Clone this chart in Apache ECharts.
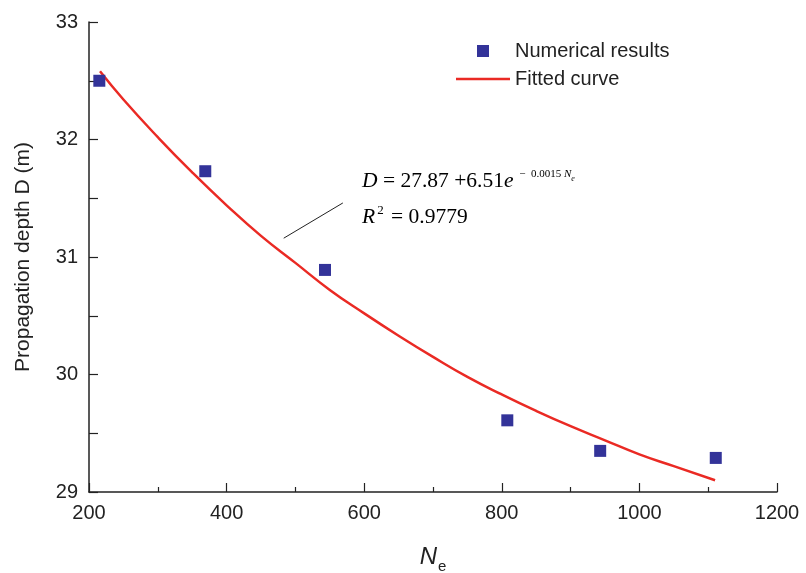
<!DOCTYPE html>
<html>
<head>
<meta charset="utf-8">
<script src="https://cdn.jsdelivr.net/npm/echarts@6/dist/echarts.min.js"></script>
<style>html,body{margin:0;padding:0;background:#fff;}#c{width:806px;height:573px;}</style>
</head>
<body>
<div id="c"></div>
<script>
// Numerical results (N_e, D)
const numericalNe = [215, 369, 543, 808, 943, 1111];
const numericalD  = [32.50, 31.73, 30.89, 29.61, 29.35, 29.29];
// Fitted curve
const fitNe = [216, 250, 300, 350, 400, 450, 500, 550, 600, 650, 700, 750, 800, 850, 900, 950, 1000, 1050, 1110];
const fitD  = [32.58, 32.34, 32.02, 31.72, 31.44, 31.18, 30.95, 30.72, 30.52, 30.33, 30.15, 29.98, 29.83, 29.69, 29.56, 29.44, 29.32, 29.22, 29.10];
// annotation leader line (data coords)
const leaderNe = [483, 569];
const leaderD  = [31.16, 31.46];
const xTicks = [200, 1200, 200];
const yTicks = [29, 33, 1];

const chart = echarts.init(document.getElementById('c'), null, {renderer: 'canvas'});
const sans = 'Liberation Sans, Arial, sans-serif';
const serif = 'Liberation Serif, Times New Roman, serif';
const navy = '#333399';
const red = '#ea2a24';

chart.setOption({
  animation: false,
  backgroundColor: '#fff',
  grid: {left: 89, right: 29, top: 22, bottom: 81, containLabel: false, outerBoundsMode: 'none'},
  legend: {
    orient: 'vertical', left: 451, top: 36,
    itemWidth: 54, itemHeight: 12, itemGap: 8,
    symbolKeepAspect: true,
    textStyle: {fontFamily: sans, fontSize: 20, color: '#222', lineHeight: 20},
    data: [
      {name: 'Numerical results', icon: 'path://M0 0L10 0L10 10L0 10Z'},
      {name: 'Fitted curve', icon: 'path://M0 0L54 0L54 2.5L0 2.5Z'}
    ]
  },
  xAxis: {
    type: 'value', min: xTicks[0], max: xTicks[1], interval: xTicks[2],
    name: '{n|N}{s|e}', nameLocation: 'middle', nameGap: 49,
    nameTextStyle: {rich: {
      n: {fontFamily: sans, fontStyle: 'italic', fontSize: 24, color: '#222'},
      s: {fontFamily: sans, fontSize: 15, color: '#222', padding: [18, 0, 0, 1]}
    }},
    axisLine: {show: true, onZero: false, lineStyle: {color: '#222', width: 1.5}},
    axisTick: {show: true, inside: false, length: -9, lineStyle: {color: '#222', width: 1.2}},
    minorTick: {show: true, splitNumber: 2, length: -5, lineStyle: {color: '#222', width: 1.2}},
    axisLabel: {fontFamily: sans, fontSize: 20, color: '#222', margin: 11, formatter: v => String(v)},
    splitLine: {show: false}
  },
  yAxis: {
    type: 'value', min: yTicks[0], max: yTicks[1], interval: yTicks[2],
    name: 'Propagation depth D (m)', nameLocation: 'middle', nameGap: 55,
    nameTextStyle: {fontFamily: sans, fontSize: 21, color: '#222'},
    axisLine: {show: true, onZero: false, lineStyle: {color: '#222', width: 1.5}},
    axisTick: {show: true, inside: false, length: -9, lineStyle: {color: '#222', width: 1.2}},
    minorTick: {show: true, splitNumber: 2, length: -9, lineStyle: {color: '#222', width: 1.2}},
    axisLabel: {fontFamily: sans, fontSize: 20, color: '#222', margin: 11, formatter: v => String(v)},
    splitLine: {show: false}
  },
  series: [
    {
      name: 'Numerical results', type: 'scatter', symbol: 'rect', symbolSize: 12,
      itemStyle: {color: navy, opacity: 1},
      data: numericalNe.map((x, i) => [x, numericalD[i]]),
      z: 3
    },
    {
      name: 'Fitted curve', type: 'line', smooth: true, symbol: 'none',
      lineStyle: {color: red, width: 2.5}, itemStyle: {color: red},
      data: fitNe.map((x, i) => [x, fitD[i]]),
      markLine: {
        silent: true, symbol: 'none', label: {show: false},
        lineStyle: {color: '#222', width: 1, type: 'solid'},
        data: [[{coord: [leaderNe[0], leaderD[0]]}, {coord: [leaderNe[1], leaderD[1]]}]]
      },
      z: 2
    }
  ],
  graphic: [
    {
      type: 'text', left: 362, top: 169,
      style: {
        text: '{i|D}{n| = 27.87 +6.51}{i|e}{s| −  0.0015 }{si|N}{ss|e}',
        rich: {
          i: {fontFamily: serif, fontStyle: 'italic', fontSize: 21.5, color: '#222'},
          n: {fontFamily: serif, fontSize: 21.5, color: '#222'},
          s: {fontFamily: serif, fontSize: 11, color: '#222', padding: [0, 0, 13, 3]},
          si: {fontFamily: serif, fontStyle: 'italic', fontSize: 11, color: '#222', padding: [0, 0, 13, 0]},
          ss: {fontFamily: serif, fontStyle: 'italic', fontSize: 8, color: '#222', padding: [0, 0, 5, 0]}
        }
      }
    },
    {
      type: 'text', left: 362, top: 204,
      style: {
        text: '{i|R}{s|2}{n| = 0.9779}',
        rich: {
          i: {fontFamily: serif, fontStyle: 'italic', fontSize: 21.5, color: '#222'},
          n: {fontFamily: serif, fontSize: 21.5, color: '#222'},
          s: {fontFamily: serif, fontSize: 13, color: '#222', padding: [0, 2, 13, 2]}
        }
      }
    }
  ]
});
</script>
</body>
</html>
